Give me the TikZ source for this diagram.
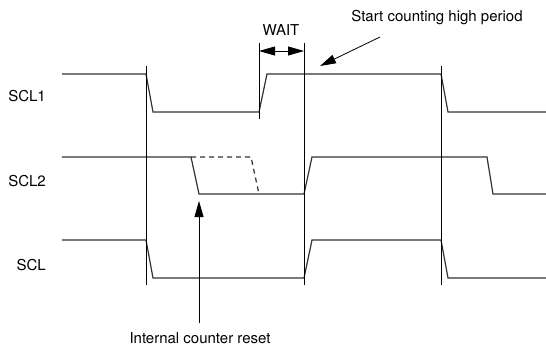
\documentclass[tikz,border=0pt]{standalone}
\usepackage{fontspec}
\setmainfont{TeX Gyre Heros}
\usetikzlibrary{arrows.meta}
\tikzset{
  sig/.style={draw=black!80,line width=1.2pt,line join=miter},
  sigd/.style={draw=black!80,line width=1.2pt,dash pattern=on 5pt off 4pt},
  tm/.style={draw=black,line width=.8pt},
  ptr/.style={-{Triangle[length=16pt,width=9pt]},draw=black,line width=.8pt},
  wt/.style={{Triangle[length=16pt,width=9pt]}-{Triangle[length=16pt,width=9pt]},draw=black,line width=.8pt},
  lb/.style={font=\fontsize{15}{18}\selectfont,inner sep=0pt},
}
\begin{document}
\begin{tikzpicture}[x=1pt,y=-1pt]
\useasboundingbox (0,0) rectangle (546,346);
% signal names
\node[lb,anchor=east] (n1) at (46,96) {SCL1};
\node[lb,anchor=east] (n2) at (46,181) {SCL2};
\node[lb,anchor=east] (n3) at (46,265) {SCL};
% the three waveforms
\draw[sig] (62,74) -- (146,74) -- (153,112) -- (259,112) -- (267,74)
  -- (441,74) -- (448,112) -- (546,112);
\draw[sig] (62,157) -- (191,157) -- (199,194) -- (304,194) -- (312,157)
  -- (487,157) -- (493,194) -- (546,194);
\draw[sigd] (191,157) -- (251,157) -- (259,194);
\draw[sig] (62,240) -- (146,240) -- (153,278) -- (304,278) -- (312,240)
  -- (441,240) -- (448,278) -- (546,278);
% timing marks
\draw[tm] (146,66) -- (146,285);
\draw[tm] (304,43) -- (304,285);
\draw[tm] (441,66) -- (441,285);
\draw[tm] (259,43) -- (259,119);
% wait interval
\coordinate (w1) at (259,51); \coordinate (w2) at (304,51);
\draw[wt] (w1) -- (w2);
\node[lb] (wait) at (281,30) {WAIT};
% notes
\node[lb] (start) at (437,18) {Start counting high period};
\coordinate (s0) at (380,37); \coordinate (s1) at (320,66);
\draw[ptr] (s0) -- (s1);
\node[lb] (reset) at (200,338) {Internal counter reset};
\coordinate (r0) at (199,323); \coordinate (r1) at (199,201);
\draw[ptr] (r0) -- (r1);
\end{tikzpicture}
\end{document}
